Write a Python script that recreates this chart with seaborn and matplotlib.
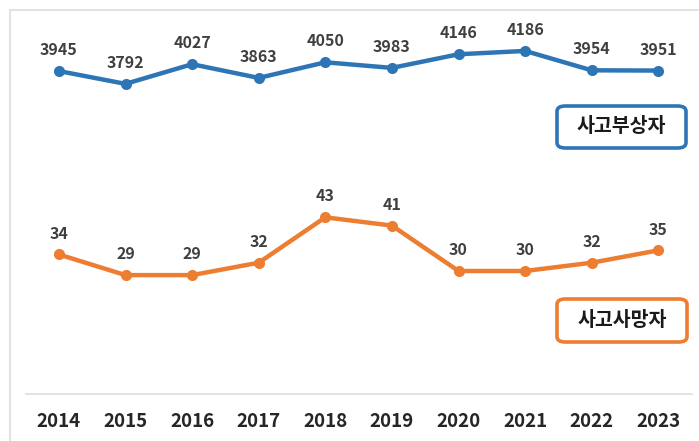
import matplotlib
matplotlib.use("Agg")
import matplotlib.pyplot as plt
from matplotlib.patches import FancyBboxPatch
from matplotlib.lines import Line2D
import seaborn as sns

# Annual accident casualties
years = ["2014", "2015", "2016", "2017", "2018", "2019", "2020", "2021", "2022", "2023"]
injured = [3945, 3792, 4027, 3863, 4050, 3983, 4146, 4186, 3954, 3951]
deaths = [34, 29, 29, 32, 43, 41, 30, 30, 32, 35]
injured_label = "사고부상자"
deaths_label = "사고사망자"

BLUE = "#2E75B6"
ORANGE = "#ED7D31"
TEXT = "#404040"

sns.set_theme(style="white")
plt.rcParams["font.family"] = ["Noto Sans CJK KR", "DejaVu Sans"]

W, H = 699, 441
fig = plt.figure(figsize=(W / 100, H / 100), dpi=100)
fig.patch.set_facecolor("white")

ax1 = fig.add_axes([25.6 / W, 47 / H, 666 / W, 374 / H])
ax2 = ax1.twinx()

xs = list(range(len(years)))

sns.lineplot(x=xs, y=injured, ax=ax1, color=BLUE, linewidth=3.2,
             marker="o", markersize=8, markeredgewidth=0)
sns.lineplot(x=xs, y=deaths, ax=ax2, color=ORANGE, linewidth=3.2,
             marker="o", markersize=8, markeredgewidth=0)

ax1.set_xlim(-0.5, len(years) - 0.5)
ax1.set_ylim(81, 4556)
ax2.set_ylim(0.2, 90.8)

for x, v in zip(xs, injured):
    ax1.annotate(f"{v}", (x, v), xytext=(0, 15), textcoords="offset points",
                 ha="center", va="center", fontsize=11.5, fontweight="bold", color=TEXT)
for x, v in zip(xs, deaths):
    ax2.annotate(f"{v}", (x, v), xytext=(0, 15), textcoords="offset points",
                 ha="center", va="center", fontsize=11.5, fontweight="bold", color=TEXT)

ax1.set_xticks(xs)
ax1.set_xticklabels(years, fontsize=13.5, fontweight="bold", color="#262626")
ax1.tick_params(axis="x", length=0, pad=13)
ax1.set_yticks([])
ax2.set_yticks([])
for a in (ax1, ax2):
    for side in ("top", "left", "right"):
        a.spines[side].set_visible(False)
    a.spines["bottom"].set_color("#E3E3E3")
    a.spines["bottom"].set_linewidth(1.2)
ax1.set_facecolor("none")
ax2.set_facecolor("none")

# Series name boxes
def name_box(x0, y0, x1, y1, label, edge):
    patch = FancyBboxPatch((x0 / W, 1 - y1 / H), (x1 - x0) / W, (y1 - y0) / H,
                           boxstyle="round,pad=0,rounding_size=0.012",
                           transform=fig.transFigure, facecolor="white",
                           edgecolor=edge, linewidth=2.6)
    fig.add_artist(patch)
    fig.text((x0 + x1) / 2 / W, 1 - (y0 + y1) / 2 / H, label, ha="center", va="center",
             fontsize=14, fontweight="bold", color="#1A1A1A")

name_box(557, 106, 686, 148, injured_label, BLUE)
name_box(557, 299, 687, 342, deaths_label, ORANGE)

# Outer frame edges
fig.add_artist(Line2D([10 / W, 10 / W], [0, 1 - 10 / H], transform=fig.transFigure,
                      color="#DDDDDD", linewidth=1.2))
fig.add_artist(Line2D([10 / W, 1], [1 - 10 / H, 1 - 10 / H], transform=fig.transFigure,
                      color="#DDDDDD", linewidth=1.2))

fig.savefig("out.png", dpi=100, facecolor="white")
